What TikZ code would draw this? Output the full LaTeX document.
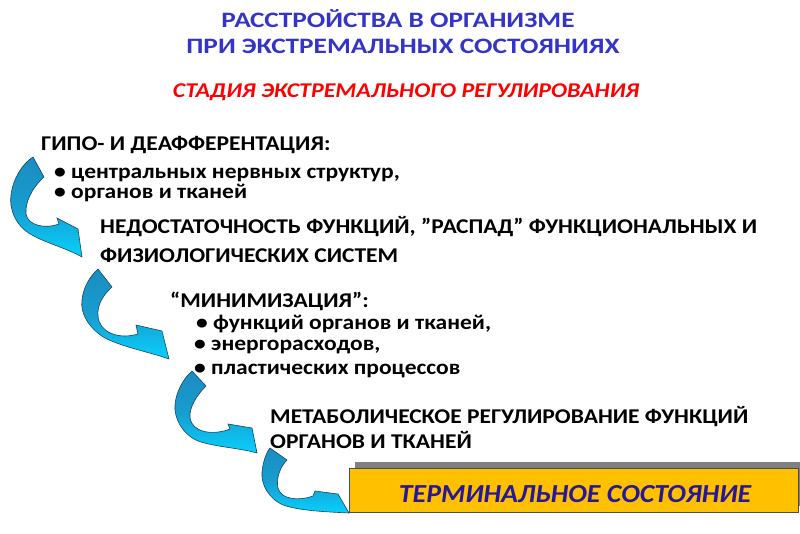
\documentclass[tikz,border=0pt]{standalone}
\usepackage{fontspec}
\setmainfont{Carlito}[FakeStretch=1.12]
\newfontfamily\titlefont{Carlito}[FakeStretch=1.24]
\newfontfamily\redfont{Carlito}[FakeStretch=1.14]
\newfontfamily\termfont{Carlito}[FakeStretch=1.07]
\definecolor{titleblue}{RGB}{52,52,200}
\definecolor{termblue}{RGB}{40,24,150}
\definecolor{boxyellow}{RGB}{255,192,0}
\definecolor{arrdark}{RGB}{28,140,192}
\definecolor{arrlight}{RGB}{8,208,252}
\definecolor{arredge}{RGB}{20,70,100}
\tikzset{
  txt/.style={anchor=base west,inner sep=0pt,font=\bfseries\fontsize{21}{25}\selectfont,text=black},
  titletxt/.style={anchor=base,inner sep=0pt,font=\titlefont\bfseries\fontsize{22}{26}\selectfont,text=titleblue},
  redtxt/.style={anchor=base,inner sep=0pt,font=\redfont\bfseries\itshape\fontsize{21}{25}\selectfont,text=red},
  termtxtstyle/.style={anchor=base,inner sep=0pt,font=\termfont\bfseries\itshape\fontsize{26}{30}\selectfont,text=termblue},
  cshape/.style={draw=arredge,line width=0.6pt,top color=arrdark,bottom color=arrlight,middle color=arrdark!75!arrlight},
  termbox/.style={draw=black!70,line width=0.6pt,fill=boxyellow,inner sep=0pt,minimum width=449pt,minimum height=44pt,anchor=north west},
}
\begin{document}
\begin{tikzpicture}[x=1pt,y=-1pt]
\useasboundingbox (0,0) rectangle (800,533);
% titles
\node[titletxt] (t1) at (398,27) {РАССТРОЙСТВА В ОРГАНИЗМЕ};
\node[titletxt] (t2) at (403,53) {ПРИ ЭКСТРЕМАЛЬНЫХ СОСТОЯНИЯХ};
\node[redtxt] (t3) at (406,97) {СТАДИЯ ЭКСТРЕМАЛЬНОГО РЕГУЛИРОВАНИЯ};
% curved arrows
\path[cshape] (33,157) -- (44,177) .. controls (31,189) and (25,203) .. (26,214)
  .. controls (28,226) and (46,229) .. (59,224) -- (57,218) -- (78,229) -- (82,257)
  .. controls (66,248) and (46,243) .. (32,235)
  .. controls (15,226) and (9,208) .. (11,195)
  .. controls (13,179) and (22,164) .. (33,157) -- cycle;
\path[cshape] (98,269) -- (112,287) .. controls (102,296) and (97,306) .. (98,316)
  .. controls (99,332) and (118,340) .. (138,334) -- (136,325) -- (162,331) -- (169,359)
  .. controls (150,352) and (125,348) .. (105,338)
  .. controls (88,328) and (80,312) .. (82,300)
  .. controls (83,288) and (90,276) .. (98,269) -- cycle;
\path[cshape] (192,371) -- (206,386) .. controls (196,396) and (189,408) .. (190,418)
  .. controls (192,432) and (212,436) .. (230,429) -- (228,424) -- (252,428) -- (257,453)
  .. controls (240,448) and (215,447) .. (198,441)
  .. controls (182,434) and (174,418) .. (175,405)
  .. controls (176,392) and (183,379) .. (192,371) -- cycle;
\path[cshape] (270,448) -- (287,460) .. controls (280,467) and (276,478) .. (278,488)
  .. controls (281,500) and (300,501) .. (313,496) -- (315,491) -- (338,494) -- (349,513)
  .. controls (330,512) and (300,511) .. (283,505)
  .. controls (268,498) and (261,484) .. (262,472)
  .. controls (263,462) and (266,453) .. (270,448) -- cycle;
% text block 1
\node[txt] (a1) at (41,150) {ГИПО- И ДЕАФФЕРЕНТАЦИЯ:};
\node[txt] (a2) at (54,178) {• центральных нервных структур,};
\node[txt] (a3) at (54,198) {• органов и тканей};
% text block 2
\node[txt] (b1) at (100,233) {НЕДОСТАТОЧНОСТЬ ФУНКЦИЙ, ”РАСПАД” ФУНКЦИОНАЛЬНЫХ И};
\node[txt] (b2) at (100,262) {ФИЗИОЛОГИЧЕСКИХ СИСТЕМ};
% text block 3
\node[txt] (c1) at (170,307) {“МИНИМИЗАЦИЯ”:};
\node[txt] (c2) at (196,329) {• функций органов и тканей,};
\node[txt] (c3) at (194,350) {• энергорасходов,};
\node[txt] (c4) at (194,374) {• пластических процессов};
% text block 4
\node[txt] (d1) at (270,423) {МЕТАБОЛИЧЕСКОЕ РЕГУЛИРОВАНИЕ ФУНКЦИЙ};
\node[txt] (d2) at (270,448) {ОРГАНОВ И ТКАНЕЙ};
% terminal box
\fill[black!50] (355,462) rectangle (803,506);
\node[termbox] (term) at (349,468) {};
\node[termtxtstyle] (termtxt) at (575,502) {ТЕРМИНАЛЬНОЕ СОСТОЯНИЕ};
\end{tikzpicture}
\end{document}
